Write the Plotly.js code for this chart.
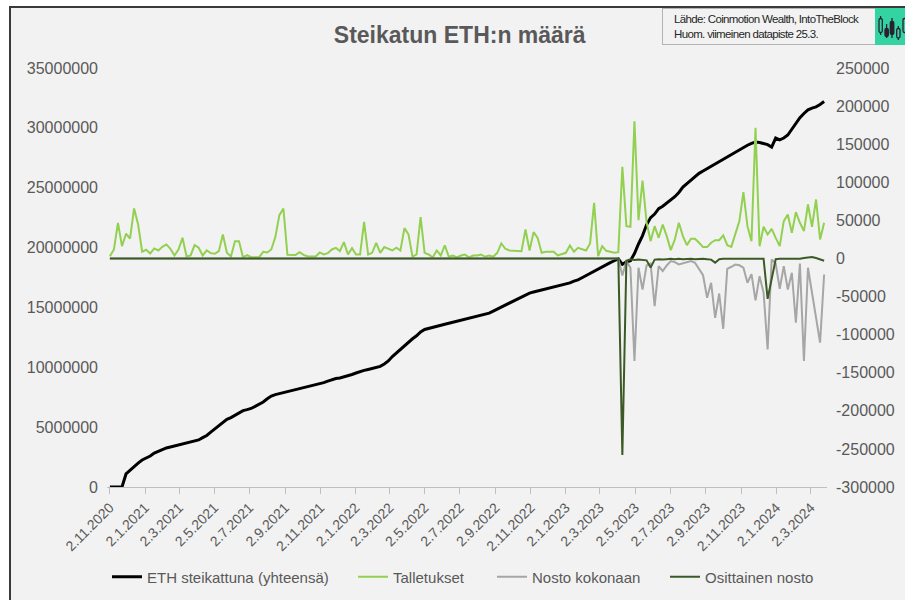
<!DOCTYPE html>
<html>
<head>
<meta charset="utf-8">
<script src="https://cdn.plot.ly/plotly-3.0.1.min.js"></script>
<style>
html,body{margin:0;padding:0;background:#ffffff;width:905px;height:600px;overflow:hidden;}
#frame{position:absolute;left:9px;top:6px;width:900px;height:600px;background:#f2f2f2;border-left:2px solid #3a3a3a;border-top:2px solid #3a3a3a;}
#chart{position:absolute;left:0;top:0;width:905px;height:600px;}
#src{position:absolute;left:662px;top:8px;width:213px;height:37px;box-sizing:border-box;border:1px solid #b3b3b3;border-right:none;background:#f2f2f2;font-family:'Liberation Sans',Arial,sans-serif;font-size:11.5px;color:#262626;letter-spacing:-0.65px;line-height:15px;padding:3px 0 0 11px;white-space:nowrap;}
#logo{position:absolute;left:875px;top:8px;width:30px;height:37px;background:#33d3a2;}
</style>
</head>
<body>
<div id="frame"></div>
<div id="chart"></div>
<div id="src">Lähde: Coinmotion Wealth, IntoTheBlock<br>Huom. viimeinen datapiste 25.3.</div>
<div id="logo">
<svg width="30" height="37" viewBox="0 0 30 37">
<g stroke="#2a2030" stroke-width="1.3" fill="none">
<line x1="5.6" y1="8" x2="5.6" y2="27"/>
<rect x="4" y="10.5" width="3.3" height="14" rx="1.5" fill="#33d3a2"/>
<line x1="11.6" y1="16" x2="11.6" y2="30"/>
<rect x="10" y="20.5" width="3.3" height="8" rx="1.5" fill="#2a2030"/>
<line x1="17" y1="10" x2="17" y2="30"/>
<rect x="15.3" y="13.5" width="3.5" height="13" rx="1.5" fill="#2a2030"/>
<line x1="23.3" y1="18" x2="23.3" y2="32"/>
<rect x="21.7" y="20.5" width="3.3" height="9.5" rx="1.5" fill="#33d3a2"/>
<rect x="28" y="10.5" width="3.3" height="14" rx="1.5" fill="#33d3a2"/>
</g>
</svg>
</div>
<script>
// Weekly data points, first week 2.11.2020, last 25.3.2024
const startDate = '2020-11-02';

const ethStaked = [
 0,0,0,0,1090000,1420000,1750000,2000000,2260000,2420000,
 2590000,2840000,3000000,3090000,3260000,3340000,3420000,3510000,3590000,3680000,
 3760000,3840000,3930000,4120000,4300000,4580000,4850000,5150000,5420000,5650000,
 5800000,5980000,6230000,6380000,6460000,6560000,6730000,6900000,7100000,7370000,
 7600000,7720000,7800000,7880000,7970000,8050000,8140000,8220000,8300000,8390000,
 8470000,8550000,8640000,8720000,8850000,8970000,9060000,9100000,9180000,9300000,
 9400000,9520000,9660000,9740000,9820000,9900000,9990000,10080000,10280000,10530000,
 10900000,11200000,11520000,11800000,12100000,12380000,12630000,12950000,13160000,13260000,
 13350000,13430000,13520000,13600000,13680000,13770000,13850000,13940000,14020000,14100000,
 14190000,14270000,14360000,14440000,14520000,14690000,14860000,15030000,15200000,15370000,
 15540000,15700000,15870000,16040000,16200000,16290000,16370000,16460000,16540000,16620000,
 16710000,16790000,16870000,16960000,17050000,17200000,17300000,17480000,17660000,17900000,
 18070000,18240000,18400000,18570000,18740000,18900000,19050000,18600000,18800000,18900000,
 19500000,20300000,21000000,21900000,22500000,22800000,23250000,23450000,23700000,23950000,
 24250000,24600000,25050000,25350000,25650000,25950000,26200000,26400000,26600000,26800000,
 26980000,27150000,27350000,27600000,27800000,27980000,28150000,28350000,28550000,28700000,
 28820000,28780000,28700000,28600000,28400000,29150000,29000000,29150000,29400000,29900000,
 30400000,30850000,31200000,31500000,31650000,31750000,31950000,32200000
];

const talletukset = [
 3000,11800,46800,16100,32400,26200,65600,44600,8800,11400,
 6600,13100,10500,15300,18400,12700,3900,11800,27100,2600,
 3900,17500,14000,3900,10500,7000,6100,9600,31500,7400,
 2600,22700,22700,1300,4400,1700,1700,1700,8800,7900,
 11800,28000,56800,65600,4800,4400,4400,8300,4800,2600,
 2600,2600,7900,5200,7000,11800,14000,9600,21400,5200,
 13500,5200,5200,48100,5200,7400,20600,7400,14900,12700,
 10500,14000,10500,39800,31500,2200,5200,54200,7400,5200,
 1300,10500,3900,17100,2200,3900,1300,3900,5200,1300,
 3900,3900,5200,2200,3900,2200,7400,19700,12700,10500,
 10500,10500,9600,38000,10500,34600,27100,7400,8800,8800,
 8800,3900,5200,7400,17100,8800,14000,12700,10500,19700,
 73100,3000,16100,10000,8800,7400,8300,120300,42400,41600,
 180200,50300,102300,47600,22700,42400,27100,44600,29300,10900,
 24900,46800,29300,17500,25800,25800,20600,14900,14900,20600,
 24000,24000,30200,17500,15300,33700,49000,87000,42400,22700,
 171500,16100,41600,31500,38900,27100,16100,49000,57700,33700,
 60700,46800,35800,70800,41600,77400,24900,46800
];

const nostoKokonaan = [
 0,0,0,0,0,0,0,0,0,0, 0,0,0,0,0,0,0,0,0,0,
 0,0,0,0,0,0,0,0,0,0, 0,0,0,0,0,0,0,0,0,0,
 0,0,0,0,0,0,0,0,0,0, 0,0,0,0,0,0,0,0,0,0,
 0,0,0,0,0,0,0,0,0,0, 0,0,0,0,0,0,0,0,0,0,
 0,0,0,0,0,0,0,0,0,0, 0,0,0,0,0,0,0,0,0,0,
 0,0,0,0,0,0,0,0,0,0, 0,0,0,0,0,0,0,0,0,0,
 0,0,0,0,0,0,0,-22300,-3500,-12200,
 -134700,-12200,-40700,-9200,-6600,-62600,-10000,-16600,-9200,-3500,
 -4800,-7900,-6600,-5700,-3500,-5700,-13600,-22000,-51600,-32000,
 -77900,-46000,-92300,-13600,-10900,-8000,-9000,-12200,-31900,-20500,
 -55000,-23200,-45000,-119400,-1300,-6600,-39800,-10000,-40700,-18800,
 -84400,-6600,-134700,-12200,-45000,-78000,-110600,-21000
];

const osittainenNosto = [
 0,0,0,0,0,0,0,0,0,0, 0,0,0,0,0,0,0,0,0,0,
 0,0,0,0,0,0,0,0,0,0, 0,0,0,0,0,0,0,0,0,0,
 0,0,0,0,0,0,0,0,0,0, 0,0,0,0,0,0,0,0,0,0,
 0,0,0,0,0,0,0,0,0,0, 0,0,0,0,0,0,0,0,0,0,
 0,0,0,0,0,0,0,0,0,0, 0,0,0,0,0,0,0,0,0,0,
 0,0,0,0,0,0,0,0,0,0, 0,0,0,0,0,0,0,0,0,0,
 0,0,0,0,0,0,0,-258000,-3000,-1000,
 -2000,-1500,-2000,-2500,-12000,-1500,-1000,-1500,-1000,-500,
 -1000,-500,-1000,-500,-500,-1000,-500,-500,-1000,-1500,
 -5500,-1000,-500,-500,-1000,-500,-500,-1000,-500,-500,
 -500,-1000,-500,-53000,-27000,-1000,-500,-500,-1000,-500,
 -500,-500,500,1500,2000,500,-1500,-3000
];

const seriesNames = ['ETH steikattuna (yhteensä)', 'Talletukset', 'Nosto kokonaan', 'Osittainen nosto'];

const xTickLabels = ['2.11.2020','2.1.2021','2.3.2021','2.5.2021','2.7.2021','2.9.2021','2.11.2021',
 '2.1.2022','2.3.2022','2.5.2022','2.7.2022','2.9.2022','2.11.2022','2.1.2023','2.3.2023',
 '2.5.2023','2.7.2023','2.9.2023','2.11.2023','2.1.2024','2.3.2024'];

const leftTickVals = [0,5000000,10000000,15000000,20000000,25000000,30000000,35000000];
const leftTickLabels = ['0','5000000','10000000','15000000','20000000','25000000','30000000','35000000'];
const rightTickVals = [250000,200000,150000,100000,50000,0,-50000,-100000,-150000,-200000,-250000,-300000];
const rightTickLabels = ['250000','200000','150000','100000','50000','0','-50000','-100000','-150000','-200000','-250000','-300000'];

function pad(n){return (n<10?'0':'')+n;}
function fiToIso(s){const p=s.split('.');return p[2]+'-'+pad(+p[1])+'-'+pad(+p[0]);}
function weekDates(start, n){
  const out=[]; const t0=Date.parse(start+'T00:00:00Z');
  for(let i=0;i<n;i++){const d=new Date(t0+i*7*86400000);
    out.push(d.getUTCFullYear()+'-'+pad(d.getUTCMonth()+1)+'-'+pad(d.getUTCDate()));}
  return out;
}
const dates = weekDates(startDate, ethStaked.length);
const xTickVals = xTickLabels.map(fiToIso);

const FONT = 'Liberation Sans, Arial, sans-serif';
const TXT = '#595959';

const traces = [
 {x:dates, y:ethStaked, name:seriesNames[0], type:'scatter', mode:'lines',
  line:{color:'#000000', width:3}, yaxis:'y', legend:'legend'},
 {x:dates, y:talletukset, name:seriesNames[1], type:'scatter', mode:'lines',
  line:{color:'#92d050', width:2}, yaxis:'y2', legend:'legend2'},
 {x:dates, y:nostoKokonaan, name:seriesNames[2], type:'scatter', mode:'lines',
  line:{color:'#a6a6a6', width:2}, yaxis:'y2', legend:'legend3'},
 {x:dates, y:osittainenNosto, name:seriesNames[3], type:'scatter', mode:'lines',
  line:{color:'#3b5a26', width:2}, yaxis:'y2', legend:'legend4'}
];

const legBase = {orientation:'h', yref:'container', yanchor:'middle', y:1-577/600, xanchor:'left',
  font:{family:FONT, size:15, color:TXT}, bgcolor:'rgba(0,0,0,0)', borderwidth:0};

const layout = {
  width:905, height:600,
  paper_bgcolor:'rgba(0,0,0,0)', plot_bgcolor:'rgba(0,0,0,0)',
  margin:{l:107, r:78, t:68, b:113, pad:0, autoexpand:false},
  font:{family:FONT, color:TXT},
  title:{text:'<b>Steikatun ETH:n määrä</b>', font:{family:FONT, size:23, color:TXT},
    x:0.508, xanchor:'center', xref:'container', y:1-35/600, yanchor:'middle', yref:'container', automargin:false},
  showlegend:true,
  legend: Object.assign({}, legBase, {x:0.0}),
  legend2: Object.assign({}, legBase, {x:0.3417}),
  legend3: Object.assign({}, legBase, {x:0.5347}),
  legend4: Object.assign({}, legBase, {x:0.775}),
  xaxis:{type:'date', range:['2020-10-28','2024-03-30'], tickmode:'array',
    tickvals:xTickVals, ticktext:xTickLabels, tickangle:-45, automargin:false,
    ticks:'outside', ticklen:6, tickcolor:'#bfbfbf', tickwidth:1,
    showline:true, linecolor:'#bfbfbf', linewidth:1, showgrid:false, zeroline:false,
    tickfont:{family:FONT, size:14, color:TXT}, fixedrange:true},
  yaxis:{range:[0,35000000], tickmode:'array', tickvals:leftTickVals, ticktext:leftTickLabels,
    showgrid:false, zeroline:false, showline:false, ticks:'', automargin:false,
    tickfont:{family:FONT, size:16, color:TXT}, ticklabelstandoff:8, fixedrange:true},
  yaxis2:{range:[-300000,250000], overlaying:'y', side:'right', tickmode:'array',
    tickvals:rightTickVals, ticktext:rightTickLabels, automargin:false,
    showgrid:false, zeroline:false, showline:false, ticks:'',
    tickfont:{family:FONT, size:16, color:TXT}, ticklabelstandoff:8, fixedrange:true}
};

Plotly.newPlot('chart', traces, layout, {displayModeBar:false, staticPlot:true});
</script>
</body>
</html>
